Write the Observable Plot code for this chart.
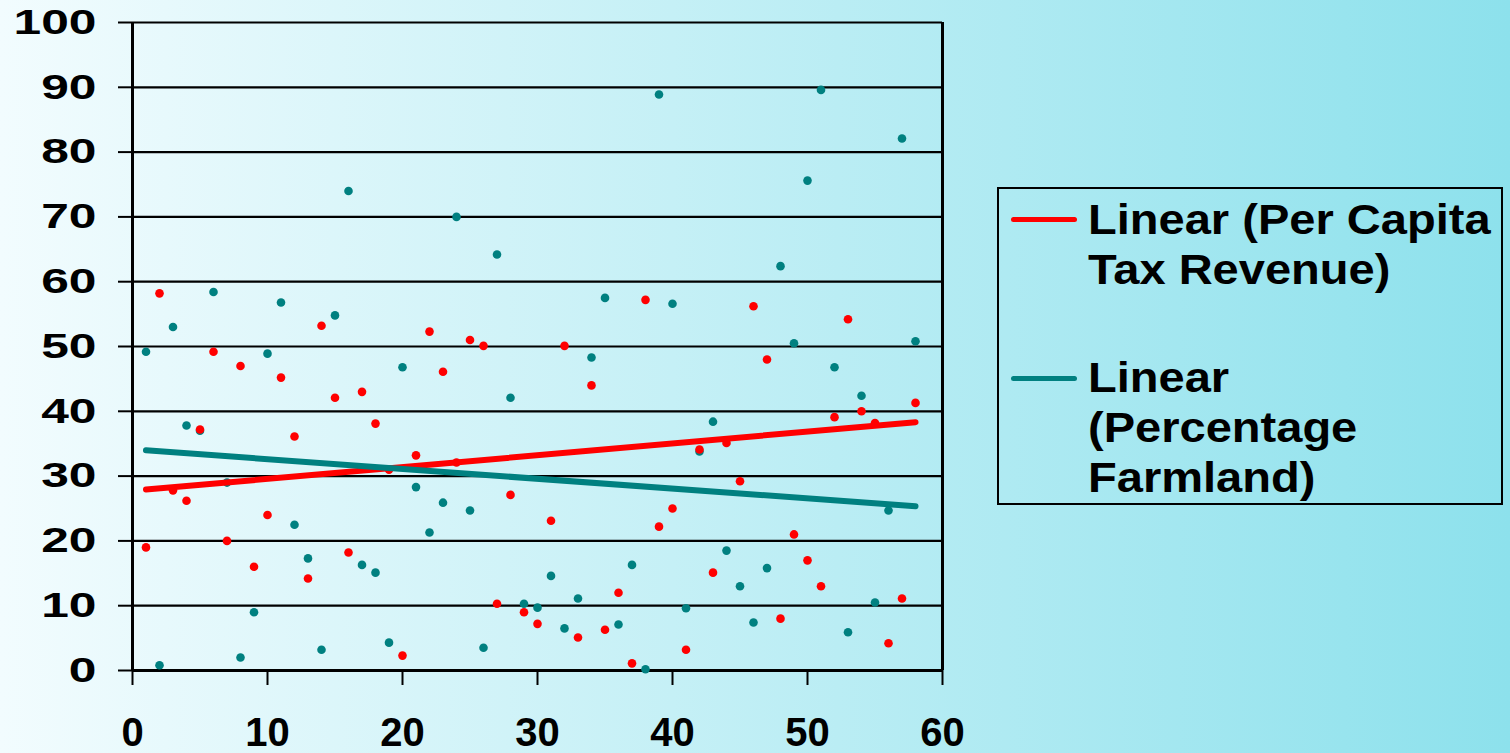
<!DOCTYPE html>
<html>
<head>
<meta charset="utf-8">
<script src="https://cdn.jsdelivr.net/npm/d3@7"></script>
<script src="https://cdn.jsdelivr.net/npm/@observablehq/plot@0.6"></script>
<style>
html, body { margin: 0; padding: 0; }
#wrap { position: relative; width: 1510px; height: 753px; overflow: hidden;
  background: linear-gradient(to right, #f2fcfe, #8de1ec);
  font-family: "Liberation Sans", Arial, sans-serif; }
#chart { position: absolute; left: 0; top: 0; }
#legendBox { position: absolute; left: 997px; top: 187px; width: 506px; height: 318px;
  border: 2px solid #000; box-sizing: border-box; }
.swatch { position: absolute; left: 1011px; width: 66px; height: 5px; border-radius: 3px; }
.ltext { position: absolute; left: 1088px; font-size: 42px; line-height: 50px; font-weight: bold;
  color: #000; white-space: nowrap; transform: scaleX(1.12); transform-origin: left top; }
</style>
</head>
<body>
<div id="wrap">
  <div id="chart"></div>
  <div id="legendBox"></div>
</div>
<script>
// ---- data ----
const xValues = [1,2,3,4,5,6,7,8,9,10,11,12,13,14,15,16,17,18,19,20,21,22,23,24,25,26,27,28,29,30,
  31,32,33,34,35,36,37,38,39,40,41,42,43,44,45,46,47,48,49,50,51,52,53,54,55,56,57,58];
// Per Capita Tax Revenue (teal markers, red linear trend)
const taxRevenue = [49.2,0.8,53,37.8,37,58.4,29,2,9,48.9,56.8,22.5,17.3,3.2,54.8,74,16.3,15.1,4.3,46.8,
  28.3,21.3,25.9,70,24.7,3.5,64.2,42.1,10.3,9.7,14.6,6.5,11.1,48.3,57.5,7.1,16.3,0.2,88.9,56.6,
  9.6,33.8,38.4,18.5,13,7.4,15.8,62.4,50.5,75.6,89.6,46.8,5.9,42.4,10.5,24.7,82.1,50.8];
// Percentage Farmland (red markers, teal linear trend)
const farmland = [19,58.2,27.8,26.2,37.2,49.2,20,47,16,24,45.2,36.1,14.2,53.2,42.1,18.2,43,38.1,31,2.3,
  33.2,52.3,46.1,32.1,51,50.1,10.3,27.1,9,7.2,23.1,50.1,5.1,44,6.3,12,1.1,57.2,22.2,25,
  3.2,34.1,15.1,35.1,29.2,56.2,48,8,21,17,13,39.1,54.2,40,38.2,4.2,11.1,41.3];
const seriesNames = ["Linear (Per Capita Tax Revenue)", "Linear (Percentage Farmland)"];
const legendLines = [["Linear (Per Capita", "Tax Revenue)"], ["Linear", "(Percentage", "Farmland)"]];
const trendColors = ["#ff0000", "#008080"];
const markerColors = ["#008080", "#ff0000"];
const xTicks = [0,10,20,30,40,50,60];
const yTicks = [0,10,20,30,40,50,60,70,80,90,100];

const taxData = xValues.map((x, i) => ({x, y: taxRevenue[i]}));
const farmData = xValues.map((x, i) => ({x, y: farmland[i]}));

const chart = Plot.plot({
  width: 1510,
  height: 753,
  marginLeft: 132,
  marginRight: 568,
  marginTop: 22,
  marginBottom: 83,
  x: {domain: [0, 60]},
  y: {domain: [0, 100]},
  style: {background: "transparent", color: "#000", fontFamily: "'Liberation Sans', Arial, sans-serif", overflow: "visible"},
  marks: [
    Plot.ruleY(yTicks.filter(d => d > 0), {stroke: "#000", strokeWidth: 2.2}),
    Plot.ruleX([60], {stroke: "#000", strokeWidth: 3}),
    Plot.axisX(xTicks, {tickSize: 15, tickPadding: 32, fontSize: 40, fontWeight: "bold", stroke: "#000", strokeWidth: 2, label: null, tickFormat: d => String(d)}),
    Plot.axisY(yTicks, {tickSize: 14, tickPadding: 22, fontSize: 35, fontWeight: "bold", stroke: "#000", strokeWidth: 2, label: null, tickFormat: d => String(d)}),
    Plot.ruleX([0], {stroke: "#000", strokeWidth: 3}),
    Plot.ruleY([0], {stroke: "#000", strokeWidth: 3}),
    Plot.dot(taxData, {x: "x", y: "y", r: 4.3, fill: markerColors[0]}),
    Plot.dot(farmData, {x: "x", y: "y", r: 4.3, fill: markerColors[1]}),
    Plot.linearRegressionY(taxData, {x: "x", y: "y", stroke: trendColors[0], strokeWidth: 6, ci: 0}),
    Plot.linearRegressionY(farmData, {x: "x", y: "y", stroke: trendColors[1], strokeWidth: 6, ci: 0})
  ]
});
document.getElementById("chart").appendChild(chart);

// widen y tick labels like the reference
chart.querySelectorAll('g[aria-label="y-axis tick label"] text').forEach(t => {
  const tr = t.getAttribute("transform");
  if (tr && tr.includes("translate")) {
    t.setAttribute("transform", tr + " scale(1.42,1)");
  } else {
    const x = +(t.getAttribute("x") || 0);
    t.setAttribute("transform", `translate(${x},0) scale(1.42,1) translate(${-x},0)`);
  }
});

// legend
const wrap = document.getElementById("wrap");
const swatchTops = [216.5, 375.5];
const textTops = [195, 353];
seriesNames.forEach((name, i) => {
  const sw = document.createElement("div");
  sw.className = "swatch";
  sw.style.top = swatchTops[i] + "px";
  sw.style.background = trendColors[i];
  wrap.appendChild(sw);
  const tx = document.createElement("div");
  tx.className = "ltext";
  tx.style.top = textTops[i] + "px";
  tx.title = name;
  tx.innerHTML = legendLines[i].join("<br>");
  wrap.appendChild(tx);
});
</script>
</body>
</html>
